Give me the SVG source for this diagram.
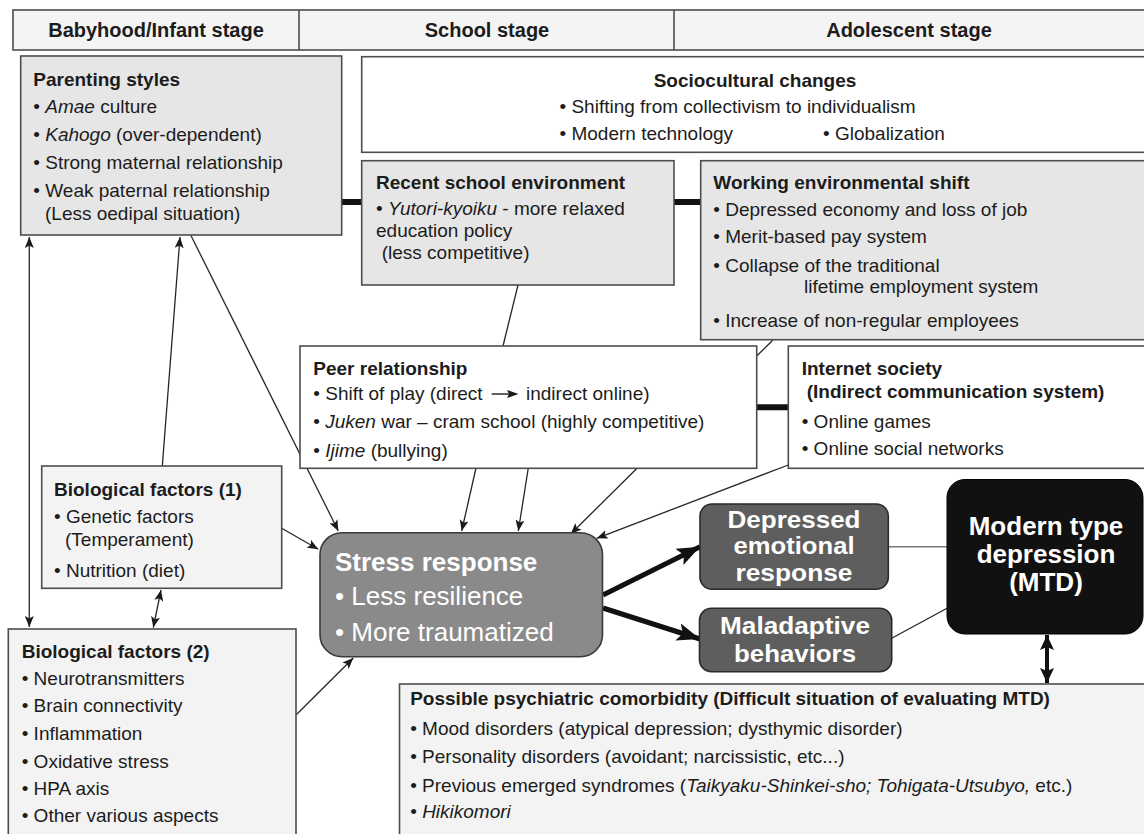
<svg xmlns="http://www.w3.org/2000/svg" width="1144" height="834" viewBox="0 0 1144 834">
<defs>
<style>
.box{stroke:#4d4d4d;stroke-width:1.6}
.g1{fill:#e6e6e6}
.g2{fill:#f3f3f3}
.wh{fill:#ffffff}
text{font-family:"Liberation Sans",Arial,Helvetica,sans-serif;fill:#1c1c1c}
.t{font-size:19px}
.b{font-weight:bold}
.i{font-style:italic}
.hd{font-size:20px;font-weight:bold;text-anchor:middle}
.big{font-size:26px;fill:#ffffff}
.mid{text-anchor:middle}
.tight{font-size:24px}
.ln{stroke:#262626;stroke-width:1.3;fill:none}
.thick{stroke:#111;stroke-width:6;fill:none}
.fat{stroke:#111;stroke-width:5;fill:none}
</style>
<marker id="ah" markerUnits="userSpaceOnUse" markerWidth="12" markerHeight="9" refX="11" refY="4.5" orient="auto-start-reverse">
<path d="M0,0 L11,4.5 L0,9 L2.5,4.5 z" fill="#1a1a1a"/>
</marker>
<marker id="ahBig" markerUnits="userSpaceOnUse" markerWidth="24" markerHeight="18" refX="23" refY="9" orient="auto">
<path d="M0,0 L23,9 L0,18 L5,9 z" fill="#111"/>
</marker>
<marker id="ahMid" markerUnits="userSpaceOnUse" markerWidth="16" markerHeight="14" refX="15" refY="7" orient="auto-start-reverse">
<path d="M0,0 L15,7 L0,14 L3,7 z" fill="#111"/>
</marker>
</defs>

<rect x="0" y="0" width="1144" height="834" fill="#ffffff"/>

<g id="connectors">
<line class="ln" x1="29.3" y1="237" x2="29.3" y2="627" marker-start="url(#ah)" marker-end="url(#ah)"/>
<line class="ln" x1="162.3" y1="466" x2="180" y2="237" marker-end="url(#ah)"/>
<line class="ln" x1="190.7" y1="235" x2="338.3" y2="531" marker-end="url(#ah)"/>
<line class="ln" x1="161" y1="590" x2="153.3" y2="627.5" marker-start="url(#ah)" marker-end="url(#ah)"/>
<line class="ln" x1="281.7" y1="528.3" x2="318.3" y2="549.3" marker-end="url(#ah)"/>
<line class="ln" x1="296" y1="715" x2="353.3" y2="658" marker-end="url(#ah)"/>
<line class="ln" x1="518" y1="285" x2="503" y2="346"/>
<line class="ln" x1="773" y1="340" x2="756.7" y2="356"/>
<line class="ln" x1="476" y1="468" x2="461.7" y2="531" marker-end="url(#ah)"/>
<line class="ln" x1="528.3" y1="468" x2="518.3" y2="531" marker-end="url(#ah)"/>
<line class="ln" x1="637.3" y1="468" x2="570.7" y2="534" marker-end="url(#ah)"/>
<line class="ln" x1="788.3" y1="465" x2="596.7" y2="538.3" marker-end="url(#ah)"/>
<line class="thick" x1="341.7" y1="202" x2="361.7" y2="202"/>
<line class="thick" x1="674" y1="202" x2="700.7" y2="202"/>
<line class="thick" x1="756.7" y1="407.3" x2="788.3" y2="407.3"/>
<line class="fat" x1="603" y1="595" x2="700" y2="546.7" marker-end="url(#ahBig)"/>
<line class="fat" x1="603" y1="608" x2="700" y2="639" marker-end="url(#ahBig)"/>
<line stroke="#777" stroke-width="1.6" x1="888" y1="546.7" x2="947" y2="546.7"/>
<line class="ln" x1="891.7" y1="638.3" x2="947" y2="608.3"/>
<line stroke="#111" stroke-width="4" x1="1047" y1="635" x2="1047" y2="683" marker-start="url(#ahMid)" marker-end="url(#ahMid)"/>
</g>

<g id="header">
<rect class="box" x="13" y="10" width="1140" height="40" fill="#f4f4f4"/>
<line class="box" x1="299" y1="10" x2="299" y2="50"/>
<line class="box" x1="674" y1="10" x2="674" y2="50"/>
<text class="hd" x="156" y="37">Babyhood/Infant stage</text>
<text class="hd" x="487" y="37">School stage</text>
<text class="hd" x="909" y="37">Adolescent stage</text>
</g>

<g id="parenting">
<rect class="box g1" x="20.7" y="56" width="321" height="179"/>
<text class="t b" x="33.3" y="86">Parenting styles</text>
<text class="t" x="33.3" y="113.3">• <tspan class="i">Amae</tspan> culture</text>
<text class="t" x="33.3" y="140.7">• <tspan class="i">Kahogo</tspan> (over-dependent)</text>
<text class="t" x="33.3" y="169.3">• Strong maternal relationship</text>
<text class="t" x="33.3" y="196.7">• Weak paternal relationship</text>
<text class="t" x="45" y="220">(Less oedipal situation)</text>
</g>

<g id="sociocultural">
<rect class="box wh" x="361.7" y="56.7" width="800" height="95.6"/>
<text class="t b mid" x="755" y="86.7">Sociocultural changes</text>
<text class="t" x="559.5" y="112.7">• Shifting from collectivism to individualism</text>
<text class="t" x="559.5" y="140">• Modern technology</text>
<text class="t" x="823" y="140">• Globalization</text>
</g>

<g id="school">
<rect class="box g1" x="361.7" y="160.7" width="312.3" height="124.3"/>
<text class="t b" x="376" y="189.3">Recent school environment</text>
<text class="t" x="376" y="215">• <tspan class="i">Yutori-kyoiku</tspan> - more relaxed</text>
<text class="t" x="376" y="237.3">education policy</text>
<text class="t" x="381.7" y="259.3">(less competitive)</text>
</g>

<g id="working">
<rect class="box g1" x="700.7" y="160.7" width="460" height="179"/>
<text class="t b" x="713.3" y="189.3">Working environmental shift</text>
<text class="t" x="713.3" y="215.7">• Depressed economy and loss of job</text>
<text class="t" x="713.3" y="243.3">• Merit-based pay system</text>
<text class="t" x="713.3" y="271.7">• Collapse of the traditional</text>
<text class="t" x="804" y="293.3">lifetime employment system</text>
<text class="t" x="713.3" y="326.7">• Increase of non-regular employees</text>
</g>

<g id="peer">
<rect class="box wh" x="300" y="346" width="456.7" height="122.3"/>
<text class="t b" x="313.3" y="375">Peer relationship</text>
<text class="t" x="313.3" y="400">• Shift of play (direct</text>
<line x1="491.7" y1="394" x2="510" y2="394" stroke="#1c1c1c" stroke-width="1.4"/>
<path d="M507,390 L518.5,394 L507,398 L509,394 z" fill="#1c1c1c"/>
<text class="t" x="526" y="400">indirect online)</text>
<text class="t" x="313.3" y="428.3">• <tspan class="i">Juken</tspan> war – cram school (highly competitive)</text>
<text class="t" x="313.3" y="456.7">• <tspan class="i">Ijime</tspan> (bullying)</text>
</g>

<g id="internet">
<rect class="box wh" x="788.3" y="346" width="370" height="122.3"/>
<text class="t b" x="801.7" y="375">Internet society</text>
<text class="t b" x="806.7" y="398.3">(Indirect communication system)</text>
<text class="t" x="801.7" y="428.3">• Online games</text>
<text class="t" x="801.7" y="455">• Online social networks</text>
</g>

<g id="bio1">
<rect class="box g2" x="41.7" y="466" width="240" height="122.3"/>
<text class="t b" x="54" y="496">Biological factors (1)</text>
<text class="t" x="54" y="522.7">• Genetic factors</text>
<text class="t" x="65" y="546">(Temperament)</text>
<text class="t" x="54" y="576.7">• Nutrition (diet)</text>
</g>

<g id="bio2">
<rect class="box g2" x="8.3" y="629" width="287.7" height="220"/>
<text class="t b" x="21.7" y="658.3">Biological factors (2)</text>
<text class="t" x="21.7" y="685">• Neurotransmitters</text>
<text class="t" x="21.7" y="711.7">• Brain connectivity</text>
<text class="t" x="21.7" y="740">• Inflammation</text>
<text class="t" x="21.7" y="768.3">• Oxidative stress</text>
<text class="t" x="21.7" y="795">• HPA axis</text>
<text class="t" x="21.7" y="821.7">• Other various aspects</text>
</g>

<g id="stress">
<rect x="320" y="532.7" width="282.5" height="124" rx="22" fill="#8a8a8a" stroke="#3a3a3a" stroke-width="1.6"/>
<text class="big b" x="335" y="571">Stress response</text>
<text class="big" x="335" y="605">• Less resilience</text>
<text class="big" x="335" y="641">• More traumatized</text>
</g>

<g id="depressed">
<rect x="700" y="504" width="188.3" height="85.3" rx="12" fill="#5e5e5e" stroke="#2a2a2a" stroke-width="1.6"/>
<text class="big b mid tight" x="794" y="527.5" textLength="133" lengthAdjust="spacingAndGlyphs">Depressed</text>
<text class="big b mid tight" x="794" y="554" textLength="121" lengthAdjust="spacingAndGlyphs">emotional</text>
<text class="big b mid tight" x="794" y="580.5" textLength="117" lengthAdjust="spacingAndGlyphs">response</text>
</g>

<g id="maladaptive">
<rect x="699.5" y="608.3" width="192.2" height="63.4" rx="12" fill="#5e5e5e" stroke="#2a2a2a" stroke-width="1.6"/>
<text class="big b mid tight" x="795" y="634" textLength="150" lengthAdjust="spacingAndGlyphs">Maladaptive</text>
<text class="big b mid tight" x="795" y="661.7" textLength="122" lengthAdjust="spacingAndGlyphs">behaviors</text>
</g>

<g id="mtd">
<rect x="947" y="479.5" width="196" height="154.5" rx="18" fill="#111111" stroke="#000" stroke-width="1"/>
<text class="big b mid" x="1046" y="535">Modern type</text>
<text class="big b mid" x="1046" y="563">depression</text>
<text class="big b mid" x="1046" y="591">(MTD)</text>
</g>

<g id="comorbidity">
<rect class="box g2" x="399.5" y="684" width="760" height="160"/>
<text class="t b" x="410.2" y="705">Possible psychiatric comorbidity (Difficult situation of evaluating MTD)</text>
<text class="t" x="410.2" y="735">• Mood disorders (atypical depression; dysthymic disorder)</text>
<text class="t" x="410.2" y="763.3">• Personality disorders (avoidant; narcissistic, etc...)</text>
<text class="t" x="410.2" y="791.7">• Previous emerged syndromes (<tspan class="i">Taikyaku-Shinkei-sho; Tohigata-Utsubyo,</tspan> etc.)</text>
<text class="t" x="410.2" y="818.3">• <tspan class="i">Hikikomori</tspan></text>
</g>
</svg>
